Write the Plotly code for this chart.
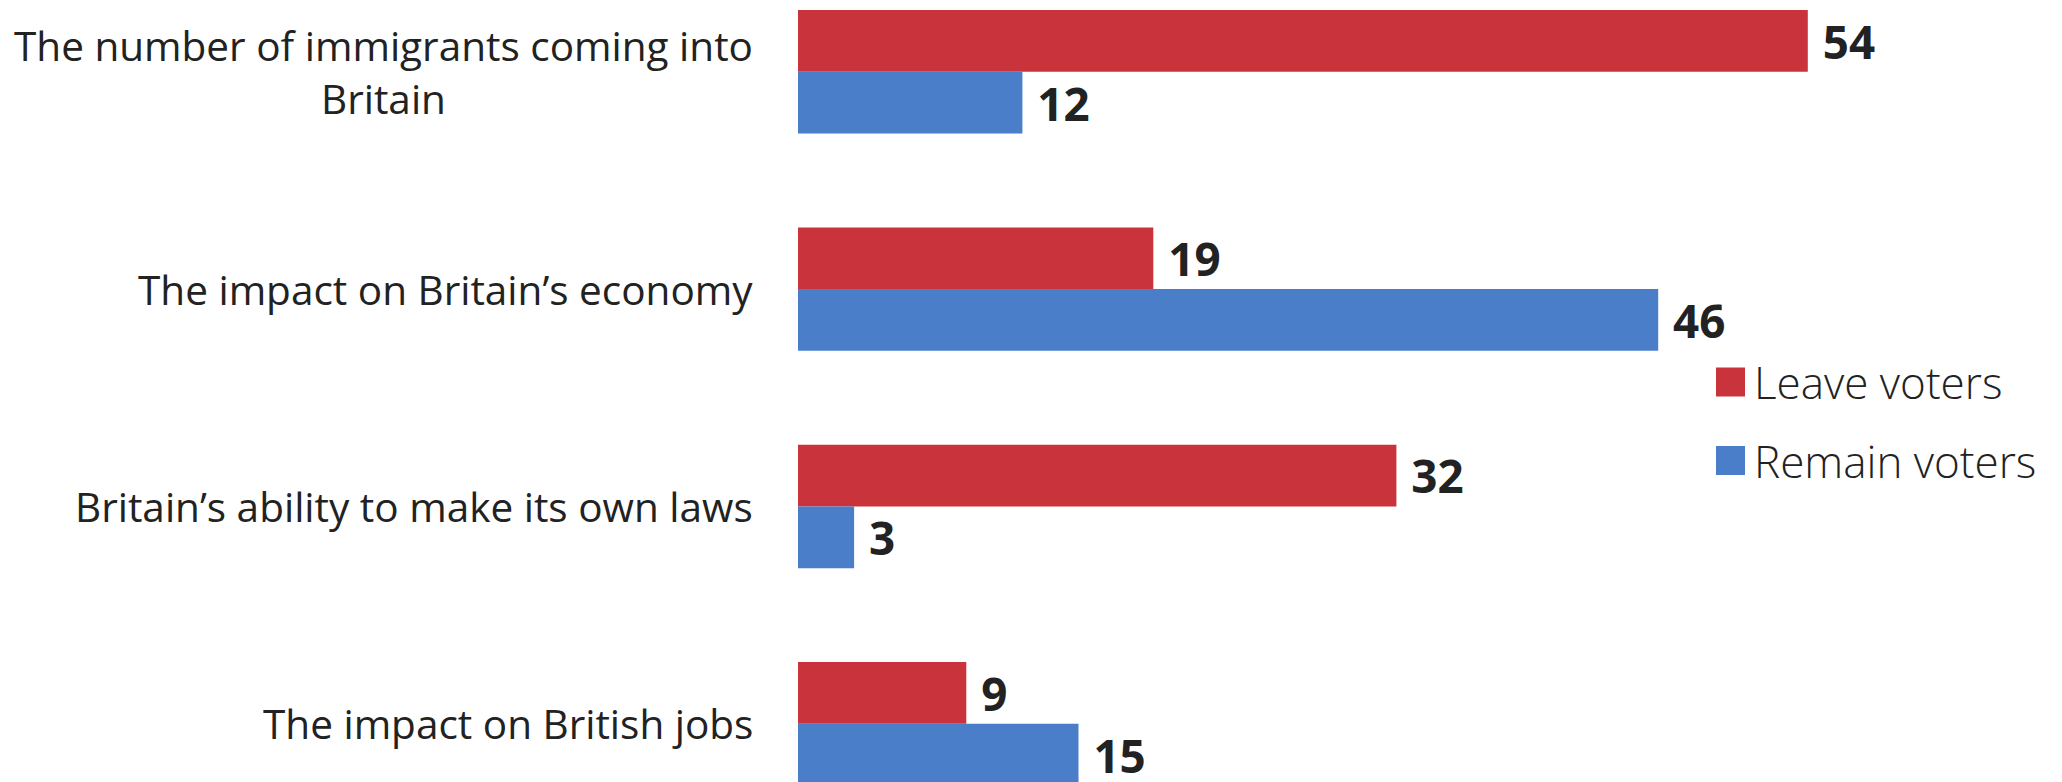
import plotly.graph_objects as go

categories = [
    "The number of immigrants coming into<br>Britain",
    "The impact on Britain’s economy",
    "Britain’s ability to make its own laws",
    "The impact on British jobs",
]
leave_values = [54, 19, 32, 9]
remain_values = [12, 46, 3, 15]
series_names = ["Leave voters", "Remain voters"]
series_colors = ["#C9333B", "#4A7EC8"]

FONT = "Open Sans"
TEXT_COLOR = "#222222"

# page body has an 8px margin; figure is sized to fit the viewport
W, H = 2054, 774
ML = 790
PW = W - ML

fig = go.Figure()
for name, vals, col in zip(series_names, [leave_values, remain_values], series_colors):
    fig.add_trace(go.Bar(
        y=categories, x=vals, name=name, orientation="h",
        marker=dict(color=col, line=dict(width=0)),
        text=vals, texttemplate="\u00a0%{x}", textposition="outside",
        textfont=dict(family=FONT, size=46, color=TEXT_COLOR, weight="bold"),
        cliponaxis=False, showlegend=False,
    ))

annotations = []
for cat in categories:
    annotations.append(dict(
        x=0, xref="paper", y=cat, yref="y", text=cat, showarrow=False,
        xanchor="right", yanchor="middle", align="center", xshift=-43,
        font=dict(family=FONT, size=40.5, color=TEXT_COLOR),
    ))

# legend drawn as swatches + text
shapes = []
leg_y_centers = [1 - (382 - 8) / H, 1 - (460.5 - 8) / H]
sw_h = 29 / H
sw_x0 = (1716 - 798) / PW
sw_x1 = (1745 - 798) / PW
for name, col, yc in zip(series_names, series_colors, leg_y_centers):
    shapes.append(dict(type="rect", xref="paper", yref="paper",
                       x0=sw_x0, x1=sw_x1, y0=yc - sw_h / 2, y1=yc + sw_h / 2,
                       fillcolor=col, line=dict(width=0)))
    annotations.append(dict(
        x=(1752 - 798) / PW, xref="paper", y=yc, yref="paper", text=name,
        showarrow=False, xanchor="left", yanchor="middle",
        font=dict(family=FONT, size=44, color=TEXT_COLOR, weight=300),
    ))

fig.update_layout(
    width=W, height=H,
    margin=dict(l=ML, r=0, t=0, b=0),
    paper_bgcolor="white", plot_bgcolor="white",
    barmode="group", bargap=0.432, bargroupgap=0,
    xaxis=dict(range=[0, PW / 18.70], visible=False),
    yaxis=dict(range=[3.268, -0.2936], showticklabels=False, showgrid=False,
               zeroline=False, showline=False, ticks=""),
    annotations=annotations, shapes=shapes,
)

fig.write_html("out.html")
